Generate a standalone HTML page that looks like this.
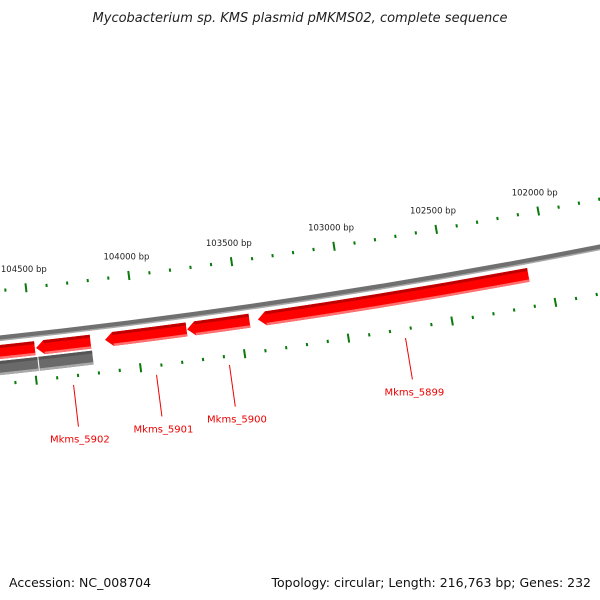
<!DOCTYPE html>
<html><head><meta charset="utf-8"><style>
body{margin:0;background:#fff}
svg{display:block;font-family:"DejaVu Sans","Liberation Sans",sans-serif}
</style></head><body>
<svg id="c" width="600" height="600" viewBox="0 0 600 600">
<text x="300" y="22" text-anchor="middle" font-size="13" font-style="italic" fill="#222">Mycobacterium sp. KMS plasmid pMKMS02, complete sequence</text>
<text x="9" y="587" font-size="12.5" fill="#111">Accession: NC_008704</text>
<text x="591" y="587" font-size="12.5" text-anchor="end" fill="#111">Topology: circular; Length: 216,763 bp; Genes: 232</text>
<g id="g"></g>
</svg>
<script>
const majorTicks=[102000,102500,103000,103500,104000,104500];
const geneNames=["Mkms_5899","Mkms_5900","Mkms_5901","Mkms_5902","Mkms_5903"];
const geneStarts=[102100,103452,103756,104219,104487];
const geneEnds=[103414,103756,104152,104484,105100];
const geneLabeled=[true,true,true,true,false];
const grayStarts=[104217,104480];
const grayEnds=[104478,105100];
const viewStart=101400, viewEnd=105300;

const NS="http://www.w3.org/2000/svg";
const Cx=-748,Cy=-6621,K=0.001708;
const g=document.getElementById('g');
function ang(bp){return (81.046+(bp-103000)*K)*Math.PI/180;}
function pt(bp,r){const a=ang(bp);return [Cx+r*Math.cos(a),Cy+r*Math.sin(a)];}
function f(p){return p[0].toFixed(2)+" "+p[1].toFixed(2);}
function arc(b1,b2,r){return "M"+f(pt(b1,r))+" A"+r+" "+r+" 0 0 1 "+f(pt(b2,r));}
function mk(tag,attrs){const e=document.createElementNS(NS,tag);for(const k in attrs)e.setAttribute(k,attrs[k]);g.appendChild(e);return e;}

// backbone
let bb=mk('path',{d:arc(viewStart,viewEnd,6999),stroke:'#707070','stroke-width':5,fill:'none'});


let bb2=mk('path',{d:arc(viewStart,viewEnd,7001.5),stroke:'#a8a8a8','stroke-width':1.5,fill:'none'});



// ticks
for(let bp=Math.ceil(viewStart/100)*100;bp<=viewEnd;bp+=100){
  const major=bp%500===0;
  [6952,7045].forEach(r=>{
    const h=major?4.5:1.6;
    const t=mk('line',{});
    const p1=pt(bp,r-h),p2=pt(bp,r+h);
    t.setAttribute('x1',p1[0]);t.setAttribute('y1',p1[1]);t.setAttribute('x2',p2[0]);t.setAttribute('y2',p2[1]);
    t.setAttribute('stroke','#0a7a0a');t.setAttribute('stroke-width',2);
    
    
  });
}
majorTicks.forEach(bp=>{
  const p=pt(bp,6933);
  const t=mk('text',{x:p[0],y:p[1]+3,'text-anchor':'middle','font-size':8.5,fill:'#222'});
  t.textContent=bp+" bp";
  
  
});

function gene(s,e,r1,r2,col,dark,light,head){
  const hb=head?38:0;
  const rm=(r1+r2)/2;
  let d=arc(s,e-hb,r1)+" L"+f(pt(e,rm))+" L"+f(pt(e-hb,r2))+" A"+r2+" "+r2+" 0 0 0 "+f(pt(s,r2))+" Z";
  const grp=document.createElementNS(NS,'g');g.appendChild(grp);
  const a=document.createElementNS(NS,'path');a.setAttribute('d',d);a.setAttribute('fill',col);grp.appendChild(a);
  const b=document.createElementNS(NS,'path');b.setAttribute('d',arc(s,e-hb,r1+1.5));b.setAttribute('stroke',dark);b.setAttribute('stroke-width',3);b.setAttribute('fill','none');grp.appendChild(b);
  const c=document.createElementNS(NS,'path');c.setAttribute('d',arc(s,e-hb,r2-1.2));c.setAttribute('stroke',light);c.setAttribute('stroke-width',2.4);c.setAttribute('fill','none');grp.appendChild(c);
  return grp;
}
grayStarts.forEach((s,i)=>{
  const el=gene(s+3,grayEnds[i],7022,7036,'#6a6a6a','#555','#aaa',false);
  
  
});
geneStarts.forEach((s,i)=>{
  const el=gene(s+3,geneEnds[i],7006,7020,'#ff0000','#c00000','#ff7070',geneEnds[i]<viewEnd);
  
  
  if(geneLabeled[i]){
    const mid=(s+geneEnds[i])/2-25;
    const p1=pt(mid,7054),p2=pt(mid,7096),p3=pt(mid,7108);
    const l=mk('line',{x1:p1[0],y1:p1[1],x2:p2[0],y2:p2[1],stroke:'#e00',
      'stroke-width':1});
    
    
    const t=mk('text',{x:p3[0],y:p3[1]+4,'text-anchor':'middle','font-size':10,fill:'#e00'});
    t.textContent=geneNames[i];
    
    
  }
});
</script>
</body></html>
